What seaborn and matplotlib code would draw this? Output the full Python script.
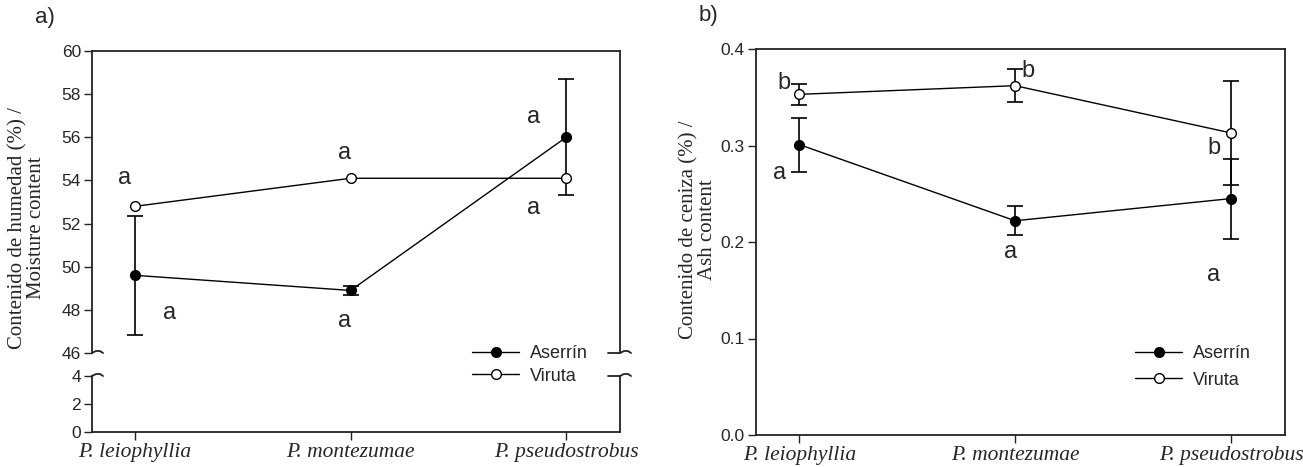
import numpy as np
import pandas as pd
import matplotlib
matplotlib.use('Agg')
import matplotlib.pyplot as plt
from matplotlib.lines import Line2D
import seaborn as sns

especies = ['P. leiophyllia', 'P. montezumae', 'P. pseudostrobus']
series = ['Aserrín', 'Viruta']

# a) contenido de humedad (%)
humedad_aserrin = [49.6, 48.9, 56.0]
humedad_aserrin_err = [2.75, 0.2, 2.68]
humedad_viruta = [52.8, 54.1, 54.1]
humedad_viruta_err = [0.0, 0.0, 0.0]
letras_humedad = ['a', 'a', 'a', 'a', 'a', 'a']
letras_humedad_pos = [(-0.05, 54.1), (0.16, 47.85), (0.97, 55.25), (0.97, 47.5), (1.85, 56.95), (1.85, 52.7)]

# b) contenido de ceniza (%)
ceniza_aserrin = [0.301, 0.222, 0.245]
ceniza_aserrin_err = [0.028, 0.015, 0.0415]
ceniza_viruta = [0.353, 0.362, 0.313]
ceniza_viruta_err = [0.011, 0.017, 0.054]
letras_ceniza = ['b', 'a', 'b', 'a', 'b', 'a']
letras_ceniza_pos = [(-0.07, 0.365), (-0.09, 0.272), (1.06, 0.377), (0.98, 0.19), (1.92, 0.297), (1.92, 0.166)]

sns.set_style('white')
plt.rcParams['font.family'] = ['Liberation Sans', 'DejaVu Sans']
serif = ['Liberation Serif', 'DejaVu Serif']

fig = plt.figure(figsize=(13.03, 4.67), dpi=100)
W, H = 1303.0, 467.0


def box(x0, y0, x1, y1):
    return [x0 / W, 1 - y1 / H, (x1 - x0) / W, (y1 - y0) / H]


ax_top = fig.add_axes(box(92, 51, 620, 353))
ax_bot = fig.add_axes(box(92, 376, 620, 432))
ax_b = fig.add_axes(box(756, 49, 1285, 435))

xlim = (-0.2, 2.25)


def draw_series(ax, valores, errores, nombre, abierto):
    df = pd.DataFrame({'especie': especies, 'valor': valores})
    idx = [i for i, e in enumerate(errores) if e > 0]
    if idx:
        ax.errorbar(idx, [valores[i] for i in idx], yerr=[errores[i] for i in idx],
                    fmt='none', ecolor='black', elinewidth=1.2, capsize=6,
                    capthick=1.2, zorder=2)
    sns.lineplot(data=df, x='especie', y='valor', ax=ax, color='black', lw=1,
                 marker='o', markersize=7, markeredgecolor='black', markeredgewidth=1,
                 markerfacecolor='white' if abierto else 'black', label=nombre,
                 zorder=3, sort=False)


def style_axis(ax):
    for s in ax.spines.values():
        s.set_color('#222222')
        s.set_linewidth(1.3)
    ax.tick_params(axis='both', direction='out', length=6, width=1, color='#222222',
                   labelsize=12.5, pad=2, left=True, bottom=True)
    ax.set_xlim(*xlim)
    ax.set_xlabel('')
    ax.set_ylabel('')


# panel a (broken axis)
draw_series(ax_top, humedad_aserrin, humedad_aserrin_err, series[0], False)
draw_series(ax_top, humedad_viruta, humedad_viruta_err, series[1], True)
ax_top.set_ylim(46, 60)
ax_top.set_yticks(np.arange(46, 61, 2))
style_axis(ax_top)
ax_top.spines['bottom'].set_visible(False)
ax_top.tick_params(axis='x', bottom=False, labelbottom=False)
for t, (x, y) in zip(letras_humedad, letras_humedad_pos):
    ax_top.text(x, y, t, ha='center', va='center', fontsize=17)
ax_top.legend_.remove()

ax_bot.set_ylim(0, 4)
ax_bot.set_yticks([0, 2, 4])
style_axis(ax_bot)
ax_bot.spines['top'].set_visible(False)
ax_bot.set_xticks(range(3))
ax_bot.set_xticklabels(especies, family=serif, style='italic', fontsize=15.5)

# break marks
for yb in [353, 376]:
    xs_pts = [92, 96, 100, 103]
    ys_pts = [yb, yb - 2, yb - 2, yb]
    fig.add_artist(Line2D([p / W for p in xs_pts], [1 - p / H for p in ys_pts],
                          color='#222222', lw=1.3))
    xs_pts = [608, 620, 624, 628, 631]
    ys_pts = [yb, yb, yb - 2, yb - 2, yb]
    fig.add_artist(Line2D([p / W for p in xs_pts], [1 - p / H for p in ys_pts],
                          color='#222222', lw=1.3))

# legend for panel a
handles = [Line2D([], [], color='black', lw=1, marker='o', markersize=7, markerfacecolor='black', markeredgecolor='black'),
           Line2D([], [], color='black', lw=1, marker='o', markersize=7, markerfacecolor='white', markeredgecolor='black')]
fig.legend(handles, series, loc='center left', bbox_to_anchor=(456 / W, 1 - 365 / H),
           frameon=False, fontsize=13, handlelength=2.6, labelspacing=0.3, handletextpad=0.6)

# panel b
draw_series(ax_b, ceniza_aserrin, ceniza_aserrin_err, series[0], False)
draw_series(ax_b, ceniza_viruta, ceniza_viruta_err, series[1], True)
ax_b.set_ylim(0, 0.4)
ax_b.set_yticks([0.0, 0.1, 0.2, 0.3, 0.4])
ax_b.set_yticklabels(['0.0', '0.1', '0.2', '0.3', '0.4'])
style_axis(ax_b)
ax_b.set_xticks(range(3))
ax_b.set_xticklabels(especies, family=serif, style='italic', fontsize=15.5)
for t, (x, y) in zip(letras_ceniza, letras_ceniza_pos):
    ax_b.text(x, y, t, ha='center', va='center', fontsize=17)
ax_b.legend_.remove()
fig.legend(handles, series, loc='center left', bbox_to_anchor=(1119 / W, 1 - 367 / H),
           frameon=False, fontsize=13, handlelength=2.6, labelspacing=0.5, handletextpad=0.6)

# axis titles and panel labels
fig.text(27 / W, 1 - 228 / H, 'Contenido de humedad (%) /\nMoisture content', rotation=90,
         ha='center', va='center', family=serif, fontsize=15, linespacing=1.0)
fig.text(698 / W, 1 - 230 / H, 'Contenido de ceniza (%) /\nAsh content', rotation=90,
         ha='center', va='center', family=serif, fontsize=15, linespacing=1.0)
fig.text(45 / W, 1 - 17 / H, 'a)', ha='center', va='center', fontsize=16)
fig.text(708 / W, 1 - 16 / H, 'b)', ha='center', va='center', fontsize=16)

fig.savefig('out.png', dpi=100)
